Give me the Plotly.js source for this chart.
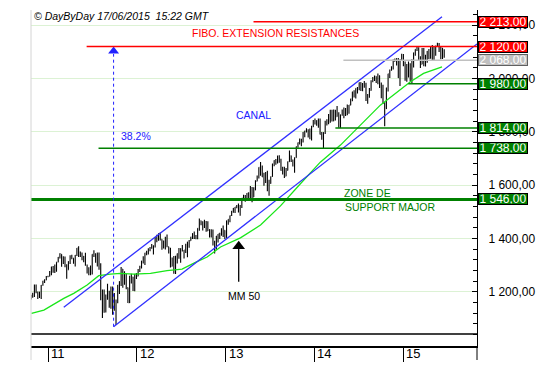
<!DOCTYPE html>
<html><head><meta charset="utf-8">
<script src="https://cdn.plot.ly/plotly-3.0.1.min.js"></script>
<style>html,body{margin:0;padding:0;background:#fff}#chart{width:556px;height:368px}</style>
</head><body><div id="chart"></div>
<script>
// ---- weekly S&P 500 bars (week ending Friday), from 2010-10-22 ----
const firstWeek = '2010-10-22';
const openV = [
 1176,1184,1184,1225,1199,1199,1187,1224,1240,1244,1257,
 1258,1271,1293,1283,1276,1311,1329,1340,1328,1323,1301,1282,1313,1332,1326,1319,1337,1365,1340,1334,1333,1331,1300,1272,1271,1268,1340,1343,1316,1344,1292,1199,1179,1125,1177,1174,1154,1216,1136,1131,1159,1225,1239,1285,1253,1263,1216,1159,1244,1255,1219,1265,
 1258,1278,1289,1315,1316,1345,1342,1361,1366,1370,1371,1404,1397,1408,1397,1370,1378,1403,1369,1351,1295,1318,1278,1325,1343,1335,1362,1354,1356,1363,1386,1391,1405,1418,1411,1406,1438,1466,1460,1441,1461,1428,1433,1412,1414,1380,1359,1409,1416,1418,1413,1430,
 1402,1466,1472,1486,1503,1513,1518,1520,1515,1518,1551,1561,1556,1569,1553,1588,1555,1582,1614,1633,1667,1650,1631,1643,1626,1592,1606,1632,1680,1692,1691,1710,1691,1655,1664,1633,1655,1688,1710,1692,1691,1703,1745,1760,1762,1771,1798,1804,1806,1805,1775,1818,
 1841,1831,1842,1838,1790,1783,1797,1838,1836,1859,1878,1841,1866,1857,1865,1815,1864,1863,1881,1878,1878,1900,1924,1950,1936,1963,1961,1985,1968,1978,1978,1925,1931,1955,1988,2003,2008,1985,2011,1982,1968,1906,1887,1965,2018,2032,2039,2064,2068,2075,2003,2071,
 2089,2058,2045,2019,2051,1995,2055,2097,2110,2105,2071,2053,2108,2061,2067,2102,2081,2117,2108,2116,2123,2126,2107,2092,2094];
const highV = [
 1189,1196,1227,1227,1200,1200,1225,1241,1247,1259,1260,
 1278,1294,1296,1302,1311,1330,1344,1341,1333,1332,1303,1314,1337,1339,1326,1338,1364,1371,1351,1347,1334,1346,1302,1292,1298,1341,1356,1343,1347,1347,1307,1208,1208,1190,1230,1204,1220,1220,1195,1171,1225,1239,1293,1285,1277,1266,1216,1260,1267,1256,1266,1270,
 1285,1297,1316,1333,1346,1354,1363,1368,1379,1374,1405,1414,1419,1422,1397,1392,1406,1415,1369,1365,1328,1334,1335,1343,1364,1363,1375,1356,1380,1387,1394,1406,1419,1426,1413,1438,1475,1467,1464,1470,1465,1464,1434,1434,1433,1391,1409,1417,1421,1438,1448,1431,
 1467,1472,1486,1503,1514,1518,1525,1531,1525,1552,1564,1563,1570,1573,1597,1593,1592,1618,1636,1667,1687,1674,1646,1649,1654,1620,1632,1680,1693,1698,1710,1712,1699,1669,1669,1664,1689,1730,1711,1696,1704,1745,1760,1775,1774,1799,1804,1813,1810,1812,1823,1844,
 1850,1843,1850,1850,1799,1798,1841,1847,1867,1883,1883,1884,1883,1897,1873,1865,1884,1891,1889,1902,1901,1924,1950,1956,1963,1968,1985,1986,1983,1991,1984,1942,1964,1993,2006,2011,2008,2019,2011,1985,1977,1912,1965,2018,2034,2046,2071,2075,2076,2077,2071,2093,
 2092,2064,2054,2064,2057,2072,2097,2110,2119,2117,2083,2114,2114,2089,2103,2111,2120,2126,2118,2123,2134,2133,2121,2115,2110];
const lowV = [
 1171,1177,1180,1194,1173,1176,1173,1222,1233,1243,1254,
 1257,1262,1271,1270,1276,1311,1325,1294,1304,1292,1249,1282,1304,1322,1305,1295,1334,1330,1330,1318,1311,1297,1268,1262,1262,1265,1330,1309,1295,1282,1168,1101,1121,1122,1170,1140,1136,1114,1129,1075,1157,1191,1221,1215,1226,1209,1158,1158,1231,1203,1202,1248,
 1258,1274,1287,1306,1300,1337,1340,1352,1361,1340,1366,1386,1391,1392,1357,1362,1358,1367,1343,1291,1295,1267,1266,1306,1324,1309,1351,1325,1345,1329,1365,1391,1398,1398,1397,1397,1429,1449,1430,1439,1425,1428,1403,1403,1373,1343,1359,1385,1398,1410,1405,1398,
 1402,1451,1461,1484,1496,1495,1513,1497,1485,1514,1548,1538,1547,1540,1549,1536,1555,1581,1614,1625,1635,1630,1598,1608,1577,1560,1605,1631,1671,1676,1681,1684,1654,1640,1627,1633,1655,1688,1687,1670,1646,1703,1740,1752,1746,1760,1780,1797,1779,1772,1767,1818,
 1827,1823,1815,1790,1770,1737,1792,1824,1828,1834,1839,1840,1842,1856,1815,1814,1860,1851,1859,1862,1868,1900,1915,1929,1925,1944,1956,1953,1952,1965,1916,1905,1928,1954,1986,1991,1983,1978,1964,1926,1906,1821,1886,1951,2002,2029,2034,2064,2049,2002,1972,2069,
 2046,1992,1988,2004,1989,1980,2041,2085,2103,2067,2039,2053,2046,2045,2059,2073,2074,2068,2068,2085,2118,2099,2072,2073,2078];
const closeV = [
 1183,1183,1225,1199,1199,1189,1224,1240,1244,1257,1258,
 1271,1293,1283,1276,1311,1329,1343,1320,1321,1304,1279,1313,1332,1328,1319,1337,1364,1340,1337,1333,1331,1300,1271,1271,1268,1340,1344,1316,1345,1292,1199,1179,1124,1177,1174,1154,1216,1136,1131,1155,1225,1238,1285,1253,1264,1216,1159,1244,1255,1219,1265,1258,
 1278,1289,1315,1316,1345,1342,1361,1366,1370,1371,1404,1397,1408,1398,1370,1378,1403,1369,1353,1295,1318,1278,1325,1343,1335,1362,1354,1356,1363,1386,1391,1405,1418,1411,1406,1438,1466,1460,1441,1461,1428,1433,1412,1414,1380,1359,1409,1416,1418,1413,1430,1402,
 1466,1472,1486,1503,1513,1518,1520,1515,1518,1551,1561,1556,1569,1553,1588,1555,1582,1614,1633,1667,1650,1631,1643,1626,1592,1606,1632,1680,1692,1691,1710,1691,1655,1664,1633,1655,1688,1710,1692,1691,1703,1745,1760,1762,1771,1798,1804,1806,1805,1775,1818,1841,
 1831,1842,1838,1790,1783,1797,1838,1836,1859,1878,1841,1866,1857,1865,1815,1864,1863,1881,1878,1878,1900,1924,1950,1936,1963,1961,1985,1968,1978,1978,1925,1931,1955,1988,2003,2008,1985,2011,1982,1968,1906,1887,1965,2018,2032,2039,2064,2068,2075,2003,2071,2089,
 2058,2045,2019,2051,1995,2055,2097,2110,2105,2071,2053,2108,2061,2067,2102,2081,2117,2108,2116,2123,2126,2107,2092,2094,2100];

// ---- 50-week moving average ----
const maDates = ['2010-10-24','2010-12-14','2011-03-06','2011-04-16','2011-06-10','2011-07-28','2011-09-14','2011-10-25','2011-12-19','2012-02-26','2012-05-04','2012-07-05','2012-08-29','2012-10-16','2012-12-10','2013-03-02','2013-05-24','2013-08-14','2013-11-04','2014-01-25','2014-04-18','2014-09-29','2015-01-31','2015-03-26','2015-06-10'];
const maValues = [1119,1131,1175,1194,1225,1260,1266,1269,1266,1269,1279,1285,1310,1330,1368,1402,1450,1522,1605,1686,1750,1900,1988,2019,2044];

// ---- channel ----
const upperChannelDates = ['2011-03-06','2015-06-10'];
const upperChannelValues = [1141.5, 2231.9];
const lowerChannelDates = ['2011-09-27','2015-11-01'];
const lowerChannelValues = [1068.7, 2129.5];

// ---- horizontal levels ----
const levelValues = [2213, 2120, 2068, 1980, 1814, 1738, 1546];
const levelStartDates = ['2013-04-25','2011-06-08','2014-04-30','2015-01-22','2014-03-28','2011-07-27','2010-10-22'];

// ---- axes ----
const yTickValues = [1200, 1400, 1600, 1800, 2000, 2200];
const yearTicks = ['2011-01-01','2012-01-01','2013-01-01','2014-01-01','2015-01-01'];
const yearLabels = ['11','12','13','14','15'];

// ---- styles ----
const levelColors = ['#ff0000','#ff0000','#c0c0c0','#008000','#008000','#008000','#008000'];
const levelBoxBorders = ['#000000','#000000','#606060','#000000','#000000','#000000','#000000'];
const levelWidths = [1.5,1.5,1.5,1.5,1.5,1.5,3];
const FONT = 'Liberation Sans, Arial, sans-serif';
const xRange = ['2010-10-22','2015-11-01'];
const yRange = [996.3, 2257];

const weeks = openV.map((_, i) => {
  const d = new Date(Date.parse(firstWeek + 'T00:00:00Z') + i * 7 * 86400000);
  return d.toISOString().slice(0, 10);
});

function fmt(v) {
  const parts = v.toFixed(2).split('.');
  return parts[0].replace(/\B(?=(\d{3})+(?!\d))/g, ' ') + ',' + parts[1];
}

const traces = [
  { type: 'scatter', mode: 'lines', x: maDates, y: maValues,
    line: { color: '#19e619', width: 1.3 }, hoverinfo: 'skip' },
  { type: 'scatter', mode: 'lines', x: upperChannelDates, y: upperChannelValues,
    line: { color: '#3030ff', width: 1.3 }, hoverinfo: 'skip' },
  { type: 'scatter', mode: 'lines', x: lowerChannelDates, y: lowerChannelValues,
    line: { color: '#3030ff', width: 1.3 }, hoverinfo: 'skip' },
  { type: 'ohlc', x: weeks, open: openV, high: highV, low: lowV, close: closeV,
    increasing: { line: { color: '#000000', width: 1.1 } },
    decreasing: { line: { color: '#000000', width: 1.1 } },
    tickwidth: 0.3, hoverinfo: 'skip' },
  // arrow heads
  { type: 'scatter', mode: 'markers', x: ['2011-09-27'], y: [2102.3],
    marker: { symbol: 'triangle-up', size: 9.5, color: '#2020ff' }, hoverinfo: 'skip' },
  { type: 'scatter', mode: 'markers', x: ['2013-02-23'], y: [1370.7],
    marker: { symbol: 'triangle-up', size: 11, color: '#000000' }, hoverinfo: 'skip' }
];

const shapes = [];
levelValues.forEach((v, i) => {
  shapes.push({ type: 'line', xref: 'x', yref: 'y', x0: levelStartDates[i], x1: xRange[1], y0: v, y1: v,
    line: { color: levelColors[i], width: levelWidths[i] } });
});
// fibo dotted vertical
shapes.push({ type: 'line', xref: 'x', yref: 'y', x0: '2011-09-27', x1: '2011-09-27', y0: 1068.7, y1: 2092,
  line: { color: '#2020ff', width: 1, dash: 'dot' } });
// MM50 arrow shaft
shapes.push({ type: 'line', xref: 'x', yref: 'y', x0: '2013-02-23', x1: '2013-02-23', y0: 1237.5, y1: 1372,
  line: { color: '#000000', width: 1.3 } });
// bottom border of price pane
shapes.push({ type: 'line', xref: 'paper', yref: 'paper', x0: 0, x1: 1, y0: 12/336, y1: 12/336,
  line: { color: '#000000', width: 1.5 } });
// left grey border
shapes.push({ type: 'line', xref: 'paper', yref: 'paper', x0: 0, x1: 0, y0: -14/336, y1: 1,
  line: { color: '#d4d4d4', width: 1 } });
// right axis extension
shapes.push({ type: 'line', xref: 'paper', yref: 'paper', x0: 1, x1: 1, y0: -14/336, y1: 0,
  line: { color: '#000000', width: 1 } });

const annotations = [];
levelValues.forEach((v, i) => {
  annotations.push({ xref: 'paper', yref: 'y', x: 1, y: v, xanchor: 'left', yanchor: 'middle', xshift: 1,
    text: fmt(v), showarrow: false, align: 'right', width: 47, height: 9, borderpad: 0.5,
    bgcolor: levelColors[i], bordercolor: levelBoxBorders[i], borderwidth: 1,
    font: { family: FONT, size: 12, color: '#ffffff' } });
});
yearTicks.forEach((d, i) => {
  annotations.push({ xref: 'x', yref: 'paper', x: d, y: -7/336, xanchor: 'left', yanchor: 'middle', xshift: 1,
    text: yearLabels[i], showarrow: false, font: { family: FONT, size: 13, color: '#000000' } });
});
const txt = (text, x, y, color, extra) => Object.assign({ xref: 'x', yref: 'y', x: x, y: y, xanchor: 'left', yanchor: 'middle',
  text: text, showarrow: false, font: { family: FONT, size: 10.5, color: color } }, extra || {});
annotations.push(Object.assign(txt('© DayByDay 17/06/2015\u00a0 15:22 GMT', 0, 0, '#000000'),
  { xref: 'paper', yref: 'paper', x: 0, y: (346 - 16) / 336, xshift: 1, font: { family: FONT, size: 10.5, color: '#000000', style: 'italic' } }));
annotations.push(txt('FIBO. EXTENSION RESISTANCES', '2013-07-24', 2169.6, '#ff0000', { xanchor: 'center' }));
annotations.push(txt('CANAL', '2013-04-23', 1863, '#2020ff', { xanchor: 'center' }));
annotations.push(txt('38.2%', '2011-10-21', 1784, '#2020ff'));
annotations.push(txt('ZONE DE', '2014-04-25', 1571.5, '#008000'));
annotations.push(txt('SUPPORT MAJOR', '2014-04-29', 1519, '#008000'));
annotations.push(txt('MM 50', '2012-12-31', 1182.7, '#000000'));

const layout = {
  width: 556, height: 368, autosize: false,
  margin: { l: 31, r: 79, t: 10, b: 22, pad: 0 },
  paper_bgcolor: '#ffffff', plot_bgcolor: '#ffffff',
  showlegend: false, separators: ', ',
  font: { family: FONT, size: 12, color: '#000000' },
  xaxis: { type: 'date', range: xRange, showgrid: false, zeroline: false,
    showline: true, linecolor: '#000000', linewidth: 1.5,
    tickmode: 'array', tickvals: yearTicks, ticks: 'outside', ticklen: 14, tickcolor: '#000000', tickwidth: 1,
    showticklabels: false, rangeslider: { visible: false }, fixedrange: true },
  yaxis: { side: 'right', range: yRange, zeroline: false,
    showline: true, linecolor: '#000000', linewidth: 1,
    tickmode: 'array', tickvals: yTickValues, tickformat: ',.2f',
    ticks: 'inside', ticklen: 5, tickcolor: '#000000', ticklabelstandoff: 8,
    tickfont: { family: FONT, size: 12, color: '#000000' },
    showgrid: true, gridcolor: '#dcf2d4', gridwidth: 1,
    minor: { tickmode: 'linear', tick0: 0, dtick: 40, ticks: 'inside', ticklen: 4, tickcolor: '#000000', showgrid: false },
    fixedrange: true },
  shapes: shapes, annotations: annotations
};

Plotly.newPlot('chart', traces, layout, { staticPlot: true, displayModeBar: false });
</script>
</body></html>
